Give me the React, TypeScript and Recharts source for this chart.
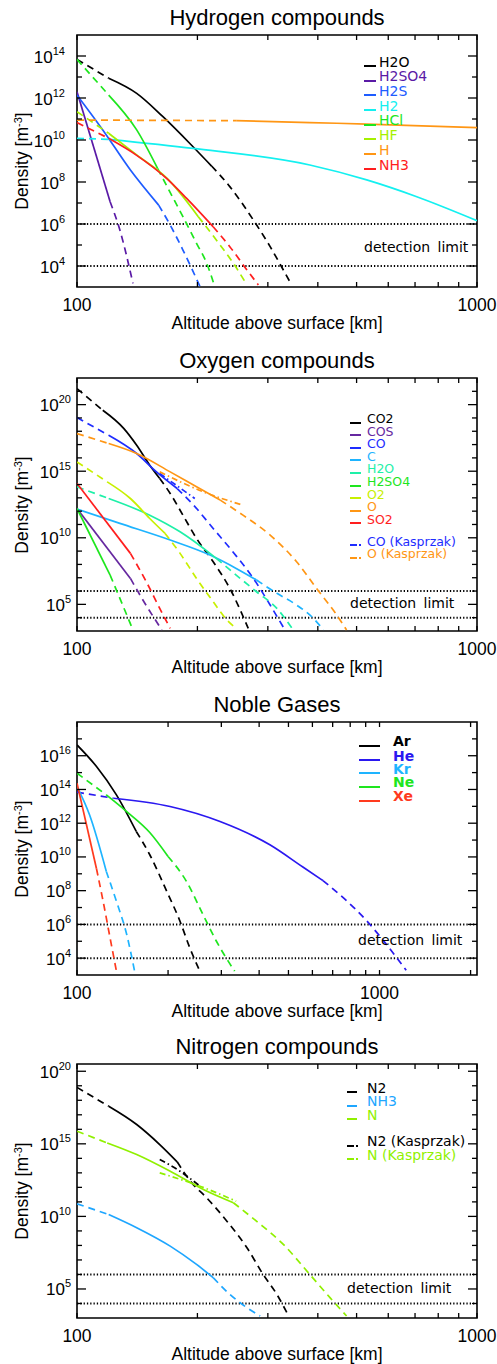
import React from 'react';
import { LineChart, Line, XAxis, YAxis, ReferenceLine, ReferenceArea } from 'recharts';

type Pt = [number, number]; // [altitude km, log10 density m^-3]

// ---------- Panel 1: Hydrogen compounds ----------
const hyd_H2O_a: Pt[] = [[100, 13.84], [120, 12.94]];
const hyd_H2O_b: Pt[] = [[120, 12.94], [141, 12.22], [164, 11.11], [195, 9.68], [217, 8.76]];
const hyd_H2O_c: Pt[] = [[217, 8.76], [241, 7.78], [276, 6.19], [304, 4.92], [328, 3.81], [344, 3.1]];
const hyd_H2SO4_a: Pt[] = [[100, 12.3], [121, 7.06]];
const hyd_H2SO4_b: Pt[] = [[121, 7.06], [128, 5.71], [138, 3.17]];
const hyd_H2S_a: Pt[] = [[100, 12.14], [116, 10.48], [136, 8.57], [160, 6.9]];
const hyd_H2S_b: Pt[] = [[160, 6.9], [171, 5.95], [184, 4.76], [203, 3.02]];
const hyd_H2_a: Pt[] = [[100, 10.08], [120, 10.03]];
const hyd_H2_b: Pt[] = [[120, 10.03], [195, 9.6], [382, 8.81], [530, 8.1], [707, 7.3], [1000, 6.16]];
const hyd_HCl_a: Pt[] = [[100, 13.84], [120, 12.14]];
const hyd_HCl_b: Pt[] = [[120, 12.14], [141, 10.48], [159, 8.65]];
const hyd_HCl_c: Pt[] = [[159, 8.65], [168, 7.78], [184, 6.35], [199, 5.08], [211, 4.13], [221, 3.02]];
const hyd_HF_a: Pt[] = [[100, 11.35], [120, 10.32]];
const hyd_HF_b: Pt[] = [[120, 10.32], [141, 9.29], [168, 8.17], [201, 6.35]];
const hyd_HF_c: Pt[] = [[201, 6.35], [223, 5.24], [246, 4.13], [266, 3.1]];
const hyd_H_a: Pt[] = [[100, 10.95], [250, 10.92]];
const hyd_H_b: Pt[] = [[250, 10.92], [382, 10.83], [530, 10.76], [1000, 10.59]];
const hyd_NH3_a: Pt[] = [[100, 10.83], [120, 10.08]];
const hyd_NH3_b: Pt[] = [[120, 10.08], [141, 9.27], [168, 8.15], [188, 7.22], [219, 5.87]];
const hyd_NH3_c: Pt[] = [[219, 5.87], [241, 4.92], [266, 3.81], [284, 3.1]];

// ---------- Panel 2: Oxygen compounds ----------
const oxy_CO2_a: Pt[] = [[100, 21.2], [116, 19.58]];
const oxy_CO2_b: Pt[] = [[116, 19.58], [131, 18.2], [141, 16.95], [152, 15.45], [161, 14.45]];
const oxy_CO2_c: Pt[] = [[161, 14.45], [171, 13.33], [184, 11.7], [199, 9.95], [219, 8.2], [241, 6.2], [268, 3.2]];
const oxy_COS_a: Pt[] = [[100, 12.2], [136, 6.95]];
const oxy_COS_b: Pt[] = [[136, 6.95], [147, 5.2], [163, 3.08]];
const oxy_CO_a: Pt[] = [[100, 19.03], [120, 17.7]];
const oxy_CO_b: Pt[] = [[120, 17.7], [141, 16.33], [158, 14.95], [178, 13.7]];
const oxy_CO_c: Pt[] = [[178, 13.7], [195, 12.5], [219, 10.7], [246, 8.9], [276, 6.95], [304, 4.95], [331, 3.08]];
const oxy_C_a: Pt[] = [[100, 12.15], [128, 11.08], [171, 9.83], [215, 8.7], [250, 7.7], [281, 6.83]];
const oxy_C_b: Pt[] = [[281, 6.83], [316, 5.83], [354, 4.95], [390, 3.95], [413, 3.08]];
const oxy_H2O_a: Pt[] = [[100, 13.83], [120, 12.95]];
const oxy_H2O_b: Pt[] = [[120, 12.95], [152, 11.7], [181, 10.45], [215, 8.83], [223, 8.45]];
const oxy_H2O_c: Pt[] = [[223, 8.45], [250, 7.2], [281, 5.95], [316, 4.7], [347, 3.08]];
const oxy_H2SO4_a: Pt[] = [[100, 12.2], [121, 7.2]];
const oxy_H2SO4_b: Pt[] = [[121, 7.2], [128, 5.45], [138, 3.08]];
const oxy_O2_a: Pt[] = [[100, 15.7], [119, 14.2]];
const oxy_O2_b: Pt[] = [[119, 14.2], [136, 12.95], [152, 11.45], [166, 10.33]];
const oxy_O2_c: Pt[] = [[166, 10.33], [181, 8.83], [199, 6.95], [219, 5.2], [237, 3.83], [250, 3.2]];
const oxy_O_a: Pt[] = [[100, 17.83], [120, 17.08]];
const oxy_O_b: Pt[] = [[120, 17.08], [141, 16.33], [171, 14.95], [199, 13.83], [228, 12.83]];
const oxy_O_c: Pt[] = [[228, 12.83], [260, 11.7], [304, 10.2], [354, 8.2], [397, 6.2], [446, 4.2], [472, 3.08]];
const oxy_SO2_a: Pt[] = [[100, 14.08], [136, 8.83]];
const oxy_SO2_b: Pt[] = [[136, 8.83], [149, 6.7], [161, 4.7], [171, 3.2]];
const oxy_COK: Pt[] = [[161, 14.83], [197, 12.95]];
const oxy_OK: Pt[] = [[161, 14.95], [207, 13.45], [260, 12.45]];

// ---------- Panel 3: Noble gases ----------
const nob_Ar_a: Pt[] = [[100, 16.64], [116, 15.36], [135, 13.68], [157, 11.51]];
const nob_Ar_b: Pt[] = [[157, 11.51], [174, 10.13], [198, 7.96], [219, 6.19], [236, 4.61], [254, 3.27]];
const nob_He_a: Pt[] = [[100, 13.84], [132, 13.48]];
const nob_He_b: Pt[] = [[132, 13.48], [203, 12.99], [297, 12.1], [434, 10.72], [558, 9.4], [650, 8.6]];
const nob_He_c: Pt[] = [[650, 8.6], [904, 6.24], [1135, 4.07], [1225, 3.28]];
const nob_Kr_a: Pt[] = [[100, 14.17], [110, 12.5], [125, 9.14]];
const nob_Kr_b: Pt[] = [[125, 9.14], [135, 7.37], [146, 5.4], [155, 3.23]];
const nob_Ne_a: Pt[] = [[100, 14.96], [125, 13.68]];
const nob_Ne_b: Pt[] = [[125, 13.68], [146, 12.69], [174, 11.45], [200, 10.03]];
const nob_Ne_c: Pt[] = [[200, 10.03], [230, 8.55], [261, 6.58], [289, 5.0], [316, 3.82], [332, 3.23]];
const nob_Xe_a: Pt[] = [[100, 14.37], [116, 9.3]];
const nob_Xe_b: Pt[] = [[116, 9.3], [122, 7.37], [128, 5.4], [135, 3.23]];

// ---------- Panel 4: Nitrogen compounds ----------
const nit_N2_a: Pt[] = [[100, 18.89], [120, 17.59]];
const nit_N2_b: Pt[] = [[120, 17.59], [141, 16.33], [161, 14.95], [178, 13.76]];
const nit_N2_c: Pt[] = [[178, 13.76], [192, 12.43], [211, 11.28], [237, 9.67], [266, 7.84], [292, 6.0], [316, 4.63], [338, 3.14]];
const nit_NH3_a: Pt[] = [[100, 10.87], [120, 10.13]];
const nit_NH3_b: Pt[] = [[120, 10.13], [141, 9.22], [171, 7.95], [199, 6.69], [219, 5.78]];
const nit_NH3_c: Pt[] = [[219, 5.78], [241, 4.63], [266, 3.71], [287, 3.14]];
const nit_N_a: Pt[] = [[100, 15.87], [119, 15.06]];
const nit_N_b: Pt[] = [[119, 15.06], [141, 14.26], [171, 13.11], [207, 11.85], [246, 10.94]];
const nit_N_c: Pt[] = [[246, 10.94], [281, 9.67], [328, 8.07], [382, 6.0], [429, 4.4], [472, 3.14]];
const nit_N2K: Pt[] = [[161, 13.92], [181, 13.11], [203, 12.08]];
const nit_NK: Pt[] = [[161, 13.0], [203, 12.08], [250, 11.05]];

// ---------- axis ticks / labels ----------
const xTicksStd = [100, 200, 300, 400, 500, 600, 700, 800, 900, 1000];
const xTicksWide = [100, 200, 300, 400, 500, 600, 700, 800, 900, 1000, 2000];
const xLabels = [100, 1000];
const detectionLimits = [6, 4];

const C = {
  black: '#000000', purple: '#5a1aa6', blue: '#1e5cff', cyan: '#14f0f0', green: '#1ee61e',
  yg: '#a6f000', orange: '#ff9614', red: '#ff1e1e', cosPurple: '#6628a0', coBlue: '#1e2cff',
  sky: '#1eb4ff', teal: '#1ef0a8', o2: '#c8f000', heBlue: '#2a18f0', xe: '#ff3a1e',
  nh3: '#1ea6ff', nGreen: '#90f000',
};

const DASH = '7 5';
const DASHDOT = '6 3 1.5 3';

type Seg = { d: Pt[]; c: string; s?: string };
type LegendItem = { t: string; c: string; k?: boolean };

type PanelCfg = {
  title: string;
  plotTop: number; plotBottom: number;
  yMin: number; yMax: number;
  majors: number[]; minors: number[];
  xMax: number; xTicks: number[];
  labelEnd: number;
  segs: Seg[];
  legend: LegendItem[];
  legendRows: number[];
  legendFont: number;
  markerX: number; markerW: number; textX: number; bold?: boolean;
  detX: number; detY: number;
};

const range = (a: number, b: number) => { const r: number[] = []; for (let i = a; i <= b; i++) r.push(i); return r; };

const panels: PanelCfg[] = [
  {
    title: 'Hydrogen compounds', plotTop: 35, plotBottom: 287, yMin: 3, yMax: 15,
    majors: [4, 6, 8, 10, 12, 14], minors: range(4, 14), xMax: 1000, xTicks: xTicksStd, labelEnd: 65,
    segs: [
      { d: hyd_H2O_a, c: C.black, s: DASH }, { d: hyd_H2O_b, c: C.black }, { d: hyd_H2O_c, c: C.black, s: DASH },
      { d: hyd_H2SO4_a, c: C.purple }, { d: hyd_H2SO4_b, c: C.purple, s: DASH },
      { d: hyd_H2S_a, c: C.blue }, { d: hyd_H2S_b, c: C.blue, s: DASH },
      { d: hyd_H2_a, c: C.cyan, s: DASH }, { d: hyd_H2_b, c: C.cyan },
      { d: hyd_HCl_a, c: C.green, s: DASH }, { d: hyd_HCl_b, c: C.green }, { d: hyd_HCl_c, c: C.green, s: DASH },
      { d: hyd_HF_a, c: C.yg, s: DASH }, { d: hyd_HF_b, c: C.yg }, { d: hyd_HF_c, c: C.yg, s: DASH },
      { d: hyd_H_a, c: C.orange, s: DASH }, { d: hyd_H_b, c: C.orange },
      { d: hyd_NH3_a, c: C.red, s: DASH }, { d: hyd_NH3_b, c: C.red }, { d: hyd_NH3_c, c: C.red, s: DASH },
    ],
    legend: [
      { t: 'H2O', c: C.black }, { t: 'H2SO4', c: C.purple }, { t: 'H2S', c: C.blue }, { t: 'H2', c: C.cyan },
      { t: 'HCl', c: C.green }, { t: 'HF', c: C.yg }, { t: 'H', c: C.orange }, { t: 'NH3', c: C.red },
    ],
    legendRows: [62, 76.7, 91, 106, 120.7, 135, 150, 165], legendFont: 14,
    markerX: 364, markerW: 12, textX: 379, detX: 364, detY: 247,
  },
  {
    title: 'Oxygen compounds', plotTop: 378, plotBottom: 631, yMin: 3, yMax: 22,
    majors: [5, 10, 15, 20], minors: range(4, 21), xMax: 1000, xTicks: xTicksStd, labelEnd: 71,
    segs: [
      { d: oxy_CO2_a, c: C.black, s: DASH }, { d: oxy_CO2_b, c: C.black }, { d: oxy_CO2_c, c: C.black, s: DASH },
      { d: oxy_COS_a, c: C.cosPurple }, { d: oxy_COS_b, c: C.cosPurple, s: DASH },
      { d: oxy_CO_a, c: C.coBlue, s: DASH }, { d: oxy_CO_b, c: C.coBlue }, { d: oxy_CO_c, c: C.coBlue, s: DASH },
      { d: oxy_C_a, c: C.sky }, { d: oxy_C_b, c: C.sky, s: DASH },
      { d: oxy_H2O_a, c: C.teal, s: DASH }, { d: oxy_H2O_b, c: C.teal }, { d: oxy_H2O_c, c: C.teal, s: DASH },
      { d: oxy_H2SO4_a, c: C.green }, { d: oxy_H2SO4_b, c: C.green, s: DASH },
      { d: oxy_O2_a, c: C.o2, s: DASH }, { d: oxy_O2_b, c: C.o2 }, { d: oxy_O2_c, c: C.o2, s: DASH },
      { d: oxy_O_a, c: C.orange, s: DASH }, { d: oxy_O_b, c: C.orange }, { d: oxy_O_c, c: C.orange, s: DASH },
      { d: oxy_SO2_a, c: C.red }, { d: oxy_SO2_b, c: C.red, s: DASH },
      { d: oxy_COK, c: C.coBlue, s: DASHDOT }, { d: oxy_OK, c: C.orange, s: DASHDOT },
    ],
    legend: [
      { t: 'CO2', c: C.black }, { t: 'COS', c: C.cosPurple }, { t: 'CO', c: C.coBlue }, { t: 'C', c: C.sky },
      { t: 'H2O', c: C.teal }, { t: 'H2SO4', c: C.green }, { t: 'O2', c: C.o2 }, { t: 'O', c: C.orange },
      { t: 'SO2', c: C.red }, { t: 'CO (Kasprzak)', c: C.coBlue, k: true }, { t: 'O (Kasprzak)', c: C.orange, k: true },
    ],
    legendRows: [418.5, 431.1, 443.7, 456.3, 468.9, 481.5, 494.1, 506.7, 519.3, 541, 553.6], legendFont: 12.5,
    markerX: 350, markerW: 11, textX: 367, detX: 350, detY: 603,
  },
  {
    title: 'Noble Gases', plotTop: 722, plotBottom: 975, yMin: 3, yMax: 18,
    majors: [4, 6, 8, 10, 12, 14, 16, 18], minors: range(4, 17), xMax: 2100, xTicks: xTicksWide, labelEnd: 71,
    segs: [
      { d: nob_Ar_a, c: C.black }, { d: nob_Ar_b, c: C.black, s: DASH },
      { d: nob_He_a, c: C.heBlue, s: DASH }, { d: nob_He_b, c: C.heBlue }, { d: nob_He_c, c: C.heBlue, s: DASH },
      { d: nob_Kr_a, c: C.sky }, { d: nob_Kr_b, c: C.sky, s: DASH },
      { d: nob_Ne_a, c: C.green, s: DASH }, { d: nob_Ne_b, c: C.green }, { d: nob_Ne_c, c: C.green, s: DASH },
      { d: nob_Xe_a, c: C.xe }, { d: nob_Xe_b, c: C.xe, s: DASH },
    ],
    legend: [
      { t: 'Ar', c: C.black }, { t: 'He', c: C.heBlue }, { t: 'Kr', c: C.sky }, { t: 'Ne', c: C.green }, { t: 'Xe', c: C.xe },
    ],
    legendRows: [741.7, 756, 769.3, 782.7, 796.7], legendFont: 14,
    markerX: 359, markerW: 21, textX: 393, bold: true, detX: 358, detY: 940,
  },
  {
    title: 'Nitrogen compounds', plotTop: 1064, plotBottom: 1318, yMin: 3, yMax: 20.5,
    majors: [5, 10, 15, 20], minors: range(4, 20), xMax: 1000, xTicks: xTicksStd, labelEnd: 71,
    segs: [
      { d: nit_N2_a, c: C.black, s: DASH }, { d: nit_N2_b, c: C.black }, { d: nit_N2_c, c: C.black, s: DASH },
      { d: nit_NH3_a, c: C.nh3, s: DASH }, { d: nit_NH3_b, c: C.nh3 }, { d: nit_NH3_c, c: C.nh3, s: DASH },
      { d: nit_N_a, c: C.nGreen, s: DASH }, { d: nit_N_b, c: C.nGreen }, { d: nit_N_c, c: C.nGreen, s: DASH },
      { d: nit_N2K, c: C.black, s: DASHDOT }, { d: nit_NK, c: C.nGreen, s: DASHDOT },
    ],
    legend: [
      { t: 'N2', c: C.black }, { t: 'NH3', c: C.nh3 }, { t: 'N', c: C.nGreen },
      { t: 'N2 (Kasprzak)', c: C.black, k: true }, { t: 'N (Kasprzak)', c: C.nGreen, k: true },
    ],
    legendRows: [1088.3, 1101.7, 1115, 1141.7, 1155], legendFont: 14,
    markerX: 347, markerW: 10, textX: 367, detX: 347, detY: 1288,
  },
];

const SANS = '"Liberation Sans", Arial, Helvetica, sans-serif';
const LEG = '"DejaVu Sans", Verdana, sans-serif';
const PLOT_L = 77;
const PLOT_W = 400;

const toRows = (pts: Pt[]) => pts.map(([alt, n]) => ({ alt, n }));

function Panel({ p }: { p: PanelCfg }) {
  const plotH = p.plotBottom - p.plotTop;
  const chartTop = p.plotTop - 10;
  const chartH = plotH + 10 + 40;

  const yTick = (props: any) => {
    const { x, y, payload } = props;
    const v = payload.value as number;
    const major = p.majors.includes(v);
    const len = major ? 9 : 5;
    return (
      <g>
        <line x1={x} y1={y} x2={x + len} y2={y} stroke="#000" strokeWidth={1.3} />
        <line x1={x + PLOT_W} y1={y} x2={x + PLOT_W - len} y2={y} stroke="#000" strokeWidth={1.3} />
        {major && (
          <text x={p.labelEnd} y={y + 6.5} textAnchor="end" fontFamily={SANS} fontSize={17} fill="#000">
            10<tspan dy={-8} fontSize={11}>{String(v)}</tspan>
          </text>
        )}
      </g>
    );
  };

  const xTick = (props: any) => {
    const { x, y, payload } = props;
    const v = payload.value as number;
    return (
      <g>
        <line x1={x} y1={y} x2={x} y2={y - 5} stroke="#000" strokeWidth={1.3} />
        <line x1={x} y1={y - plotH} x2={x} y2={y - plotH + 5} stroke="#000" strokeWidth={1.3} />
        {xLabels.includes(v) && (
          <text x={x} y={y + 24} textAnchor="middle" fontFamily={SANS} fontSize={17.5} fill="#000">
            {String(v)}
          </text>
        )}
      </g>
    );
  };

  const midY = (p.plotTop + p.plotBottom) / 2;
  const lf = p.legendFont;

  return (
    <>
      <div style={{ position: 'absolute', left: 0, top: chartTop }}>
        <LineChart width={497} height={chartH} margin={{ top: 10, right: 20, bottom: 10, left: 0 }}>
          <XAxis
            dataKey="alt" type="number" scale="log" domain={[100, p.xMax]} allowDataOverflow
            ticks={p.xTicks} interval={0} tickSize={0} tickMargin={0} tickLine={false} axisLine={false}
            height={30} tick={xTick}
          />
          <YAxis
            type="number" domain={[p.yMin, p.yMax]} allowDataOverflow
            ticks={p.minors} interval={0} tickSize={0} tickMargin={0} tickLine={false} axisLine={false}
            width={77} tick={yTick}
          />
          {detectionLimits.map((lv) => (
            <ReferenceLine key={lv} y={lv} stroke="#000" strokeWidth={2} strokeDasharray="1.3 2" />
          ))}
          {p.segs.map((s, i) => (
            <Line
              key={i} data={toRows(s.d)} dataKey="n" type="monotone" stroke={s.c} strokeWidth={1.7}
              strokeDasharray={s.s} dot={false} activeDot={false} isAnimationActive={false}
            />
          ))}
          <ReferenceArea x1={100} x2={p.xMax} y1={p.yMin} y2={p.yMax} stroke="#000" strokeWidth={1.6} fill="none" fillOpacity={0} />
        </LineChart>
      </div>

      <div style={{
        position: 'absolute', left: PLOT_L, width: PLOT_W, top: p.plotTop - 30, height: 26, lineHeight: '26px',
        textAlign: 'center', fontFamily: SANS, fontSize: 22, color: '#000',
      }}>{p.title}</div>

      <div style={{
        position: 'absolute', left: PLOT_L - 20, width: PLOT_W + 40, top: p.plotBottom + 25, height: 22, lineHeight: '22px',
        textAlign: 'center', fontFamily: SANS, fontSize: 17.5, color: '#000',
      }}>Altitude above surface [km]</div>

      <div style={{
        position: 'absolute', left: 22 - 100, top: midY - 11, width: 200, height: 22, lineHeight: '22px',
        textAlign: 'center', fontFamily: SANS, fontSize: 17.5, color: '#000', transform: 'rotate(-90deg)',
        whiteSpace: 'nowrap',
      }}>Density [m<span style={{ fontSize: 11, verticalAlign: 'top', lineHeight: '14px' }}>-3</span>]</div>

      {p.legend.map((it, i) => {
        const cy = p.legendRows[i];
        const my = Math.round(cy + 3);
        return (
          <React.Fragment key={it.t}>
            {it.k ? (
              <>
                <div style={{ position: 'absolute', left: p.markerX, top: my, width: 7, height: 2, background: it.c }} />
                <div style={{ position: 'absolute', left: p.markerX + 9, top: my, width: 2, height: 2, background: it.c }} />
              </>
            ) : (
              <div style={{ position: 'absolute', left: p.markerX, top: my, width: p.markerW, height: 2, background: it.c }} />
            )}
            <div style={{
              position: 'absolute', left: p.textX, top: cy - 5.5, height: 11, lineHeight: '11px', whiteSpace: 'nowrap',
              fontFamily: LEG, fontSize: lf, color: it.c, fontWeight: p.bold ? 'bold' : 'normal',
            }}>{it.t}</div>
          </React.Fragment>
        );
      })}

      <div style={{
        position: 'absolute', left: p.detX, top: p.detY - 5.5, height: 11, lineHeight: '11px', whiteSpace: 'nowrap',
        fontFamily: LEG, fontSize: 14, color: '#000', wordSpacing: 3,
      }}>detection limit</div>
    </>
  );
}

export default function App() {
  return (
    <div style={{ position: 'absolute', left: 0, top: 0, width: 497, height: 1364, background: '#fff', overflow: 'hidden' }}>
      {panels.map((p) => (
        <Panel key={p.title} p={p} />
      ))}
    </div>
  );
}
